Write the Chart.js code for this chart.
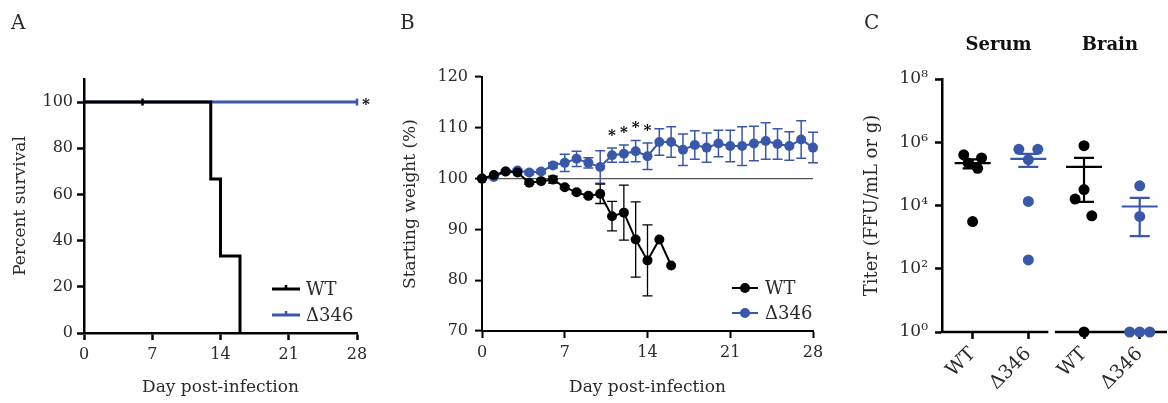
<!DOCTYPE html>
<html>
<head>
<meta charset="utf-8">
<script src="https://cdn.jsdelivr.net/npm/chart.js@4.4.1/dist/chart.umd.min.js"></script>
<style>
  html, body { margin:0; padding:0; background:#fff; }
  body { width:1168px; height:403px; position:relative; overflow:hidden; }
  canvas { position:absolute; top:0; }
  #chartA { left:0; width:390px; height:403px; }
  #chartB { left:390px; width:450px; height:403px; }
  #chartC { left:845px; width:323px; height:403px; }
</style>
</head>
<body>
<canvas id="chartA" width="390" height="403"></canvas>
<canvas id="chartB" width="450" height="403"></canvas>
<canvas id="chartC" width="323" height="403"></canvas>
<script>
// ================= DATA =================
// Panel A: survival (Kaplan-Meier steps)
const survTimesWT  = [0, 13, 14, 16];
const survPctWT    = [100, 66.7, 33.3, 0];
const censorWT     = [6];
const survTimesMut = [0];
const survPctMut   = [100];
const followUpEnd  = 28;
const censorMut    = [28];
const survDayTicks = [0, 7, 14, 21, 28];
const survPctTicks = [0, 20, 40, 60, 80, 100];

// Panel B: starting weight (%)
const weightDaysWT = [0,1,2,3,4,5,6,7,8,9,10,11,12,13,14,15,16];
const weightWT     = [100,100.7,101.4,101.2,99.2,99.5,99.8,98.3,97.3,96.6,97.0,92.6,93.3,88.0,83.9,88.0,82.9];
const weightErrWT  = [0,0,0,0,0.3,0.3,0.7,0.3,0.3,0.3,1.9,2.9,5.4,7.4,7.0,0,0];
const weightDaysMut = [0,1,2,3,4,5,6,7,8,9,10,11,12,13,14,15,16,17,18,19,20,21,22,23,24,25,26,27,28];
const weightMut     = [100,100.3,101.4,101.6,101.2,101.4,102.6,103.1,103.9,103.1,102.3,104.6,104.9,105.4,104.4,107.2,107.2,105.7,106.6,106.1,106.9,106.4,106.4,106.9,107.4,106.8,106.4,107.7,106.1];
const weightErrMut  = [0,0.2,0.3,0.3,0.4,0.4,0.5,1.7,1.5,1.0,3.2,1.4,1.7,2.1,2.6,2.6,3.0,3.1,2.8,2.9,2.6,3.1,3.8,3.4,3.6,3.0,2.8,3.7,3.0];
const weightDayTicks = [0, 7, 14, 21, 28];
const weightTicks    = [70, 80, 90, 100, 110, 120];
const sigDays        = [11, 12, 13, 14];

// Panel C: titers (FFU/mL or g)
const titerLabels = ['WT', 'Δ346', 'WT', 'Δ346'];
const tissues     = ['Serum', 'Brain'];
const serumWT     = [4.0e5, 3.2e5, 2.2e5, 1.5e5, 3.1e3];
const serumMut    = [6.0e5, 6.0e5, 2.8e5, 1.35e4, 190];
const brainWT     = [7.8e5, 3.2e4, 1.6e4, 4.7e3, 1];
const brainMut    = [4.2e4, 4.5e3, 1, 1, 1];
const titerTicks  = [1e0, 1e2, 1e4, 1e6, 1e8];
// horizontal spread of the individual animals inside each group (category units)
const spreadSerumWT  = [-0.16, 0.16, -0.08, 0.09, 0];
const spreadSerumMut = [-0.17, 0.17, 0, 0, 0];
const spreadBrainWT  = [0, 0, -0.16, 0.14, 0];
const spreadBrainMut = [0, 0, -0.18, 0, 0.18];

// ================= STYLE =================
const SERIF = "'DejaVu Serif', 'Liberation Serif', serif";
const INK = '#2a2a2a';
const BLUE = '#3A58AA';
const font = (size, weight) => ({ family: SERIF, size: size, weight: weight || 'normal', lineHeight: 1.2 });
const setTicks = vals => s => { s.ticks = vals.map(v => ({ value: v })); };
const fixW = w => s => { s.width = w; };
const fixH = h => s => { s.height = h; };

function centeredText(ctx, text, x, yc) {
  const m = ctx.measureText(text);
  ctx.textBaseline = 'alphabetic';
  ctx.fillText(text, x, yc + (m.actualBoundingBoxAscent - m.actualBoundingBoxDescent) / 2);
}

const panelLetter = {
  id: 'panelLetter',
  afterDraw(chart, args, o) {
    const c = chart.ctx;
    c.save();
    c.font = `normal ${o.size}px ${SERIF}`;
    c.fillStyle = INK; c.textAlign = 'left'; c.textBaseline = 'alphabetic';
    c.fillText(o.text, o.x, o.y);
    c.restore();
  }
};

const baseOpts = () => ({
  responsive: false, animation: false, devicePixelRatio: 1, events: [],
  plugins: { legend: { display: false }, tooltip: { enabled: false } }
});

// ================= PANEL A =================
function stepPoints(times, pct, end) {
  const pts = [{ x: times[0], y: pct[0] }];
  for (let i = 1; i < times.length; i++) {
    pts.push({ x: times[i], y: pct[i - 1] });
    pts.push({ x: times[i], y: pct[i] });
  }
  if (end !== undefined && end > times[times.length - 1]) pts.push({ x: end, y: pct[pct.length - 1] });
  return pts;
}
function survAt(times, pct, t) {
  let v = pct[0];
  for (let i = 0; i < times.length; i++) if (times[i] <= t) v = pct[i];
  return v;
}

const legendA = {
  id: 'legendA',
  afterDraw(chart) {
    const { ctx, chartArea: ca, scales: { x, y } } = chart;
    ctx.save();
    ctx.fillStyle = '#000';
    ctx.font = `bold 15px ${SERIF}`;
    ctx.textAlign = 'center';
    centeredText(ctx, '*', x.getPixelForValue(followUpEnd) + 9, y.getPixelForValue(100) - 1);
    const items = [
      { label: 'WT', color: '#000', lw: 3, dy: -44 },
      { label: 'Δ346', color: BLUE, lw: 3, dy: -18 }
    ];
    items.forEach(it => {
      const yy = ca.bottom + it.dy;
      ctx.strokeStyle = it.color; ctx.lineWidth = it.lw;
      ctx.beginPath(); ctx.moveTo(ca.right - 85, yy); ctx.lineTo(ca.right - 57, yy); ctx.stroke();
      ctx.lineWidth = 2.5;
      ctx.beginPath(); ctx.moveTo(ca.right - 71, yy); ctx.lineTo(ca.right - 71, yy - 4); ctx.stroke();
      ctx.fillStyle = INK; ctx.font = `normal 18px ${SERIF}`;
      ctx.textAlign = 'left'; ctx.textBaseline = 'middle';
      ctx.fillText(it.label, ca.right - 51, yy + 1);
    });
    ctx.restore();
  }
};

new Chart(document.getElementById('chartA'), {
  type: 'line',
  data: {
    datasets: [
      { data: censorWT.map(t => ({ x: t, y: survAt(survTimesWT, survPctWT, t) })), showLine: false,
        pointStyle: 'line', rotation: 90, pointRadius: 3.5, borderColor: '#000', pointBorderWidth: 2.5, clip: false },
      { data: stepPoints(survTimesWT, survPctWT), borderColor: '#000', borderWidth: 3, pointRadius: 0,
        tension: 0, clip: false, borderCapStyle: 'butt', borderJoinStyle: 'miter' },
      { data: censorMut.map(t => ({ x: t, y: survAt(survTimesMut, survPctMut, t) })), showLine: false,
        pointStyle: 'line', rotation: 90, pointRadius: 3.5, borderColor: BLUE, pointBorderWidth: 2.5, clip: false },
      { data: stepPoints(survTimesMut, survPctMut, followUpEnd), borderColor: BLUE, borderWidth: 3, pointRadius: 0,
        tension: 0, clip: false }
    ]
  },
  options: Object.assign(baseOpts(), {
    layout: { autoPadding: false, padding: { left: 0, top: 79, right: 33, bottom: 0 } },
    scales: {
      x: {
        type: 'linear', min: 0, max: 28, afterBuildTicks: setTicks(survDayTicks), afterFit: fixH(70),
        ticks: { font: font(16), color: INK, padding: 5, maxRotation: 0 },
        grid: { drawOnChartArea: false, tickLength: 7, tickColor: '#000', tickWidth: 2.5 },
        border: { color: '#000', width: 2.5 },
        title: { display: true, text: 'Day post-infection', font: font(17), color: INK, padding: { top: 0, bottom: 5 } }
      },
      y: {
        type: 'linear', min: 0, max: 110, afterBuildTicks: setTicks(survPctTicks), afterFit: fixW(84),
        ticks: { font: font(16), color: INK, padding: 4 },
        grid: { drawOnChartArea: false, tickLength: 7, tickColor: '#000', tickWidth: 2.5 },
        border: { color: '#000', width: 2.5 },
        title: { display: true, text: 'Percent survival', font: font(17), color: INK, padding: { top: 10, bottom: 0 } }
      }
    },
    plugins: Object.assign(baseOpts().plugins, { panelLetter: { text: 'A', x: 11, y: 29, size: 20 } })
  }),
  plugins: [legendA, panelLetter]
});

// ================= PANEL B =================
const weightExtras = {
  id: 'weightExtras',
  beforeDatasetsDraw(chart) {
    const { ctx, scales: { x, y } } = chart;
    const series = [
      { d: weightDaysMut, v: weightMut, e: weightErrMut, c: BLUE, w: 1.5 },
      { d: weightDaysWT, v: weightWT, e: weightErrWT, c: '#000', w: 1.3 }
    ];
    ctx.save();
    series.forEach(s => {
      ctx.strokeStyle = s.c; ctx.lineWidth = s.w;
      s.d.forEach((day, i) => {
        if (!s.e[i]) return;
        const px = x.getPixelForValue(day);
        const y1 = y.getPixelForValue(s.v[i] + s.e[i]);
        const y2 = y.getPixelForValue(s.v[i] - s.e[i]);
        ctx.beginPath();
        ctx.moveTo(px, y1); ctx.lineTo(px, y2);
        ctx.moveTo(px - 5, y1); ctx.lineTo(px + 5, y1);
        ctx.moveTo(px - 5, y2); ctx.lineTo(px + 5, y2);
        ctx.stroke();
      });
    });
    ctx.restore();
  },
  afterDraw(chart) {
    const { ctx, chartArea: ca, scales: { x, y } } = chart;
    ctx.save();
    ctx.fillStyle = '#000';
    ctx.font = `bold 15px ${SERIF}`;
    ctx.textAlign = 'center';
    sigDays.forEach(day => {
      const i = weightDaysMut.indexOf(day);
      centeredText(ctx, '*', x.getPixelForValue(day), y.getPixelForValue(weightMut[i] + weightErrMut[i]) - 16);
    });
    const items = [
      { label: 'WT', color: '#000', dy: -43 },
      { label: 'Δ346', color: BLUE, dy: -18 }
    ];
    items.forEach(it => {
      const yy = ca.bottom + it.dy;
      ctx.strokeStyle = it.color; ctx.lineWidth = 2;
      ctx.beginPath(); ctx.moveTo(ca.right - 81, yy); ctx.lineTo(ca.right - 55, yy); ctx.stroke();
      ctx.fillStyle = it.color;
      ctx.beginPath(); ctx.arc(ca.right - 68, yy, 5, 0, Math.PI * 2); ctx.fill();
      ctx.fillStyle = INK; ctx.font = `normal 18px ${SERIF}`;
      ctx.textAlign = 'left'; ctx.textBaseline = 'middle';
      ctx.fillText(it.label, ca.right - 48, yy + 1);
    });
    ctx.restore();
  }
};

new Chart(document.getElementById('chartB'), {
  type: 'line',
  data: {
    datasets: [
      { data: weightDaysWT.map((d, i) => ({ x: d, y: weightWT[i] })), borderColor: '#000', backgroundColor: '#000',
        borderWidth: 2, pointRadius: 5, pointBorderWidth: 0, pointBackgroundColor: '#000', tension: 0, clip: false },
      { data: weightDaysMut.map((d, i) => ({ x: d, y: weightMut[i] })), borderColor: BLUE, backgroundColor: BLUE,
        borderWidth: 2, pointRadius: 5, pointBorderWidth: 0, pointBackgroundColor: BLUE, tension: 0, clip: false }
    ]
  },
  options: Object.assign(baseOpts(), {
    layout: { autoPadding: false, padding: { left: 0, top: 77, right: 27, bottom: 0 } },
    scales: {
      x: {
        type: 'linear', min: 0, max: 28, afterBuildTicks: setTicks(weightDayTicks), afterFit: fixH(72),
        ticks: { font: font(16), color: INK, padding: 5, maxRotation: 0 },
        grid: { drawOnChartArea: false, tickLength: 7, tickColor: '#000', tickWidth: 2 },
        border: { color: '#000', width: 2 },
        title: { display: true, text: 'Day post-infection', font: font(17), color: INK, padding: { top: 0, bottom: 5 } }
      },
      y: {
        type: 'linear', min: 70, max: 120, afterBuildTicks: setTicks(weightTicks), afterFit: fixW(92),
        ticks: { font: font(16), color: INK, padding: 7 },
        grid: { drawOnChartArea: true, tickLength: 7, tickColor: '#000', tickWidth: 2, lineWidth: 1.2,
                color: c => (c.tick && c.tick.value === 100) ? '#555555' : 'rgba(0,0,0,0)' },
        border: { color: '#000', width: 2 },
        title: { display: true, text: 'Starting weight (%)', font: font(17), color: INK, padding: { top: 10, bottom: 0 } }
      }
    },
    plugins: Object.assign(baseOpts().plugins, { panelLetter: { text: 'B', x: 10, y: 29, size: 20 } })
  }),
  plugins: [weightExtras, panelLetter]
});

// ================= PANEL C =================
const titerGroups = [
  { vals: serumWT,  spread: spreadSerumWT,  color: '#000' },
  { vals: serumMut, spread: spreadSerumMut, color: BLUE },
  { vals: brainWT,  spread: spreadBrainWT,  color: '#000' },
  { vals: brainMut, spread: spreadBrainMut, color: BLUE }
];
const mean = a => a.reduce((s, v) => s + v, 0) / a.length;
const sem = a => { const m = mean(a); return Math.sqrt(a.reduce((s, v) => s + (v - m) * (v - m), 0) / (a.length - 1)) / Math.sqrt(a.length); };
const supDigits = { 0: '⁰', 2: '²', 4: '⁴', 6: '⁶', 8: '⁸' };
const axisBreak = [2.36, 2.5];

const titerExtras = {
  id: 'titerExtras',
  beforeDatasetsDraw(chart) {
    const { ctx, scales: { x, y } } = chart;
    const yb = y.getPixelForValue(titerTicks[0]);
    ctx.save(); ctx.strokeStyle = '#000'; ctx.lineWidth = 2.5;
    [[x.min, axisBreak[0]], [axisBreak[1], x.max]].forEach(([a, b]) => {
      ctx.beginPath(); ctx.moveTo(x.getPixelForValue(a) - 1.25, yb); ctx.lineTo(x.getPixelForValue(b), yb); ctx.stroke();
    });
    ctx.restore();
  },
  afterDatasetsDraw(chart) {
    const { ctx, scales: { x, y } } = chart;
    ctx.save();
    titerGroups.forEach((g, gi) => {
      const m = mean(g.vals), s = sem(g.vals);
      const px = x.getPixelForValue(gi + 1);
      const ym = y.getPixelForValue(m), yh = y.getPixelForValue(m + s), yl = y.getPixelForValue(m - s);
      ctx.strokeStyle = g.color; ctx.lineWidth = 2.2;
      ctx.beginPath();
      ctx.moveTo(px - 18, ym); ctx.lineTo(px + 18, ym);
      ctx.moveTo(px, yh); ctx.lineTo(px, yl);
      ctx.moveTo(px - 10, yh); ctx.lineTo(px + 10, yh);
      ctx.moveTo(px - 10, yl); ctx.lineTo(px + 10, yl);
      ctx.stroke();
    });
    ctx.restore();
  },
  afterDraw(chart) {
    const { ctx, scales: { x } } = chart;
    ctx.save();
    ctx.fillStyle = '#111'; ctx.font = `bold 18px ${SERIF}`;
    ctx.textAlign = 'center'; ctx.textBaseline = 'middle';
    tissues.forEach((t, k) => {
      const cx = (x.getPixelForValue(2 * k + 1) + x.getPixelForValue(2 * k + 2)) / 2;
      ctx.fillText(t, cx - 2, 45);
    });
    ctx.restore();
  }
};

new Chart(document.getElementById('chartC'), {
  type: 'scatter',
  data: {
    datasets: titerGroups.map((g, gi) => ({
      data: g.vals.map((v, i) => ({ x: gi + 1 + g.spread[i], y: v })),
      pointRadius: 5.5, pointBorderWidth: 0, backgroundColor: g.color, pointBackgroundColor: g.color, clip: false
    }))
  },
  options: Object.assign(baseOpts(), {
    layout: { autoPadding: false, padding: { left: 0, top: 79, right: 1, bottom: 0 } },
    scales: {
      x: {
        type: 'linear', min: 0.45, max: 4.49, afterBuildTicks: setTicks([1, 2, 3, 4]), afterFit: fixH(71),
        ticks: { font: font(19), color: INK, padding: 4, minRotation: 45, maxRotation: 45,
                 callback: v => titerLabels[v - 1] },
        grid: { drawOnChartArea: false, tickLength: 7, tickColor: '#000', tickWidth: 2.5 },
        border: { display: false }
      },
      y: {
        type: 'logarithmic', min: 1, max: 1e8, afterBuildTicks: setTicks(titerTicks), afterFit: fixW(97),
        ticks: { font: font(17), color: INK, padding: 7,
                 callback: v => '10' + supDigits[Math.round(Math.log10(v))] },
        grid: { drawOnChartArea: false, tickLength: 7, tickColor: '#000', tickWidth: 2.5 },
        border: { color: '#000', width: 2.5 },
        title: { display: true, text: 'Titer (FFU/mL or g)', font: font(18), color: INK, padding: { top: 17, bottom: 0 } }
      }
    },
    plugins: Object.assign(baseOpts().plugins, { panelLetter: { text: 'C', x: 19, y: 29, size: 20 } })
  }),
  plugins: [titerExtras, panelLetter]
});
</script>
</body>
</html>
